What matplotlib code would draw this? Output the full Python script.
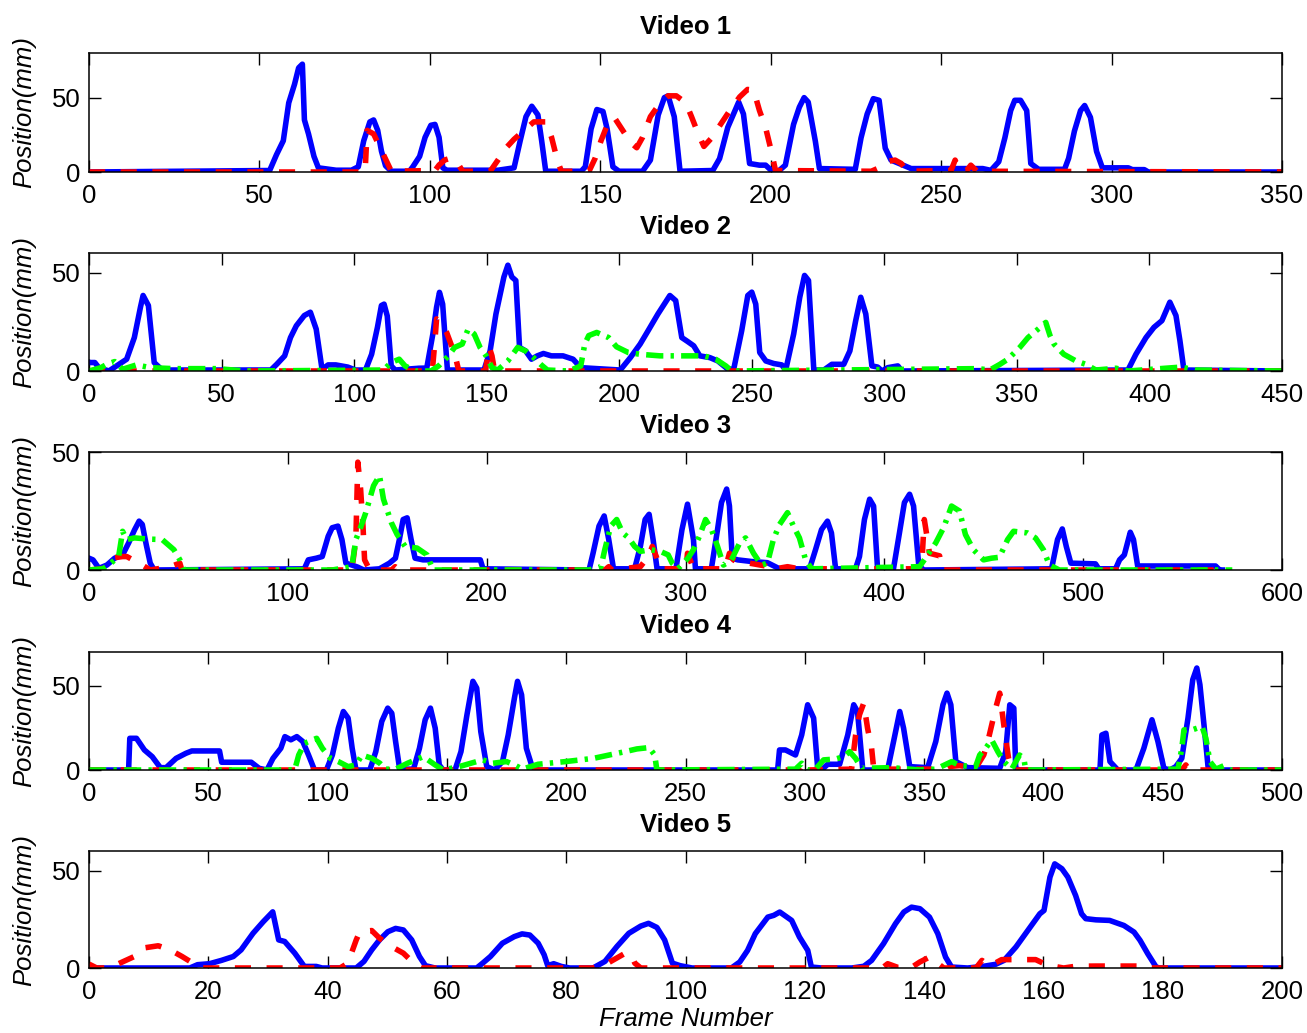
import numpy as np
import matplotlib
matplotlib.use("Agg")
import matplotlib.pyplot as plt

plt.rcParams['font.family'] = ['Liberation Sans', 'DejaVu Sans']

# (frame, position in mm), one list per curve
v1_blue = [(0, 0), (53, 1), (55, 11.6), (57, 21), (58.6, 46.5), (60.3, 59), (61.5, 70), (62.6, 72.5),
           (63.2, 35), (64.4, 25.6), (66, 10.5), (67.3, 2.8), (72.5, 1.2), (77, 1.2), (79, 3.5), (80.6, 21),
           (82.4, 33.7), (83.5, 35), (84.7, 28), (85.8, 14), (87, 4.2), (88.7, 0.5), (94, 0.5), (95, 3.5),
           (97, 10.5), (98.6, 23.3), (100.3, 31.4), (101.5, 32), (102.7, 23.3), (103.8, 2.8), (105, 1.2),
           (120, 1.2), (124.7, 2.8), (126.5, 21), (128.2, 37.2), (129.9, 44.2), (131.7, 38.4), (132.8, 21),
           (134, 0.5), (144.4, 0.5), (145.6, 3.5), (147.3, 29), (149, 42), (150.8, 40.7), (152, 29),
           (153.7, 3.5), (155.5, 0.5), (162.4, 0.5), (164.7, 8), (167, 38.4), (168.8, 50), (169.9, 51.2),
           (171.7, 37.2), (173.4, 0.5), (183, 1), (185, 9), (187.4, 30), (190.6, 47), (192, 39), (193.8, 5.7),
           (196.7, 4.6), (198.5, 4.6), (200.2, 1), (202, 0), (204.3, 4.6), (206.7, 32), (208.4, 43.6),
           (209.8, 50), (211, 47), (213.1, 20.6), (214.3, 2.3), (224.8, 1.8), (226.5, 23), (228.3, 39),
           (230.1, 49.3), (231.8, 48.2), (233.6, 16), (235.3, 8), (237.7, 5.7), (241.2, 2.3), (262.2, 2.3),
           (264.6, 1.1), (266.9, 6.9), (268.7, 23), (270.4, 41.3), (271.6, 48.2), (273.3, 48.2), (275.1, 41.3),
           (276.3, 5.7), (278.6, 1.8), (286.2, 1.8), (287.4, 9.2), (289.1, 27.5), (290.9, 41.3), (292.1, 44.7),
           (293.8, 36.7), (295.6, 13.8), (297.3, 2.8), (304.9, 2.8), (306.1, 1.6), (309.6, 1.6), (310.8, 0),
           (350, 0)]
v1_red = [(0, 0), (81, 0), (81.6, 28), (83.5, 25.6), (86.4, 11.6), (88.7, 0.5), (101.5, 1), (102.7, 4.7),
          (104.4, 8.1), (106.1, 9.3), (107.9, 7), (109.6, 0.5), (117.7, 0.5), (120, 8.1), (122.4, 16.3),
          (124.7, 22), (127.6, 27.9), (130.5, 33.7), (134, 33.7), (135.7, 23.3), (137.5, 7), (138.6, 0.5),
          (146.7, 0.5), (148.5, 9.3), (150.2, 20.9), (152.6, 34.9), (154.3, 36), (156.6, 27.9), (158.9, 19.8),
          (160.7, 16.3), (162.4, 23.3), (164.7, 37.2), (167.6, 46.5), (169.9, 51.2), (172.3, 51.2),
          (175.1, 46.5), (176.8, 37), (178.6, 26.4), (180.4, 17.2), (182.7, 23), (185, 31), (188, 41.3),
          (190.9, 50.5), (193.2, 55.5), (195, 55), (196.7, 41.3), (198.5, 29.8), (200.2, 13.8), (201.4, 1),
          (229.5, 0.5), (231.8, 2.8), (233.6, 6.9), (236.5, 8), (238.3, 5.7), (240, 0.5), (252.9, 1),
          (254.1, 8), (255.2, 1), (257.5, 1), (258.7, 4.6), (260.5, 0.5), (350, 0)]

v2_blue = [(0, 4.3), (2.2, 4.3), (3.7, 1.7), (7.5, 0), (10.4, 2.6), (14.2, 6), (17.1, 17), (19.4, 32.4),
           (20.4, 38.4), (22.4, 33.3), (24.6, 4.3), (27.6, 0.5), (68.6, 0.5), (70.8, 3.4), (73.8, 7.7), (76, 17),
           (78.2, 23), (81.2, 28.2), (83.5, 29.9), (85.7, 21.3), (87.9, 0.9), (90.2, 3.1), (93.1, 3.1),
           (97.6, 2), (100.6, 0.5), (104.3, 0.5), (106.6, 8.5), (108.8, 22.2), (110.3, 33.3), (111.3, 34),
           (112.5, 28), (114, 2.6), (115.5, 0.5), (124.4, 1.4), (127.4, 1.5), (129.7, 18.8), (131.1, 32.4),
           (132.2, 40), (133.4, 34), (135.2, 0.5), (149, 0.5), (151.3, 10.2), (153.5, 29), (156.5, 47.8),
           (158, 53.8), (159.5, 47.8), (161, 46), (162.4, 12), (164.7, 10.2), (166.9, 6), (169.1, 7.7),
           (171.4, 8.9), (174.4, 7.7), (178.8, 7.7), (182.6, 6), (185.5, 1.7), (200.4, 0.5), (204.2, 6.8),
           (207.9, 13.7), (210.9, 20.5), (214.6, 29), (219.1, 38.4), (221.3, 35.8), (223.6, 17), (225.8, 15),
           (228.1, 12.8), (230.4, 7.7), (234.2, 6.8), (237.2, 5.1), (241, 0.9), (243.2, 1), (246.2, 20.5),
           (248.5, 38.4), (250, 40.1), (251.5, 34), (253, 9.4), (255.3, 5.1), (258.3, 3.8), (261.3, 3.1),
           (262.8, 0.5), (265.8, 18.8), (268.1, 37.5), (269.9, 48.6), (271.4, 46), (273.4, 0.5), (277.2, 0.5),
           (280.2, 3.4), (284.7, 3.4), (287, 10.2), (289.2, 25.6), (291.1, 37.5), (293, 29), (295.3, 2.6),
           (297.5, 2), (299.1, 0), (301.3, 1.7), (305.1, 2.6), (306.6, 0), (391.9, 0.5), (394.9, 8.5),
           (398.7, 17), (401.7, 22.2), (404.7, 25.6), (407.7, 35), (410, 28.2), (411.5, 15.4), (413, 0.5),
           (450, 0)]
v2_red = [(0, 0), (129.5, 0), (130.4, 14), (131.1, 26.5), (133, 24), (134.9, 19.6), (137, 12), (138.6, 5),
          (139.5, 0), (149.5, 0), (151, 12), (152, 7.7), (153, 0), (450, 0)]
v2_green = [(0, 0), (4.5, 1.7), (6.7, 3.4), (9.7, 4.8), (12.7, 0.9), (17.9, 3.1), (23.1, 1.7), (32, 1.2),
            (48.4, 1.2), (58.9, 0), (111, 0.5), (114, 4.3), (117, 6), (119.2, 2.6), (123, 0), (129, 0),
            (131.9, 2.6), (135.6, 7.7), (137.9, 12), (140.8, 13.7), (143, 21.3), (145.3, 18.8), (147.5, 12),
            (149.8, 7.7), (152, 1.7), (154.2, 0.5), (158, 5.1), (161.7, 12), (164.7, 10.2), (167.7, 6.8),
            (170.6, 3.1), (172.9, 0.5), (181, 0), (185.5, 2.6), (187, 13.7), (188.5, 18), (191.5, 19.6),
            (196, 17), (199, 12.3), (203.4, 9.4), (207.9, 8.5), (215.4, 7.7), (231.9, 7.7), (236.4, 6),
            (240.2, 2.6), (242.5, 0), (335.3, 1.2), (339.8, 0.5), (343.6, 3.4), (346.6, 6), (351.1, 12),
            (354.2, 17), (358, 21.3), (360.9, 24.7), (362.5, 18), (364, 13.7), (367.7, 8.5), (372.3, 5.1),
            (376, 3.4), (379.8, 0.5), (387.4, 1.4), (392, 0), (412, 2), (417.2, 0.5), (450, 0)]

v3_blue = [(0, 5), (2, 4.3), (5, 0.7), (9, 2.1), (12.9, 5), (16.9, 6.4), (19.9, 11.4), (22.9, 17), (25.2, 20.7),
           (26.8, 19.3), (28.8, 10.7), (30.8, 2.9), (32.8, 0), (108.3, 0.5), (110.3, 4.3), (114.3, 5),
           (117.3, 5.7), (120.3, 14.3), (122.3, 17.9), (125.2, 18.6), (127.2, 12.9), (129.2, 2.9), (132.2, 2.1),
           (135.2, 1.2), (138.2, 0), (146.1, 0.5), (151.1, 2.9), (154.1, 5), (156.1, 12.9), (158, 21.4),
           (160, 22.1), (162, 12.9), (164, 5), (168, 4.3), (196.8, 4.3), (198.2, 0.5), (251.5, 0), (253.5, 7.1),
           (256.5, 18.6), (259.1, 22.9), (261.4, 12.9), (263.8, 0.5), (274.4, 0.5), (277.3, 10), (279.7, 21.4),
           (281.7, 23.6), (283.7, 12.9), (285.7, 0.5), (295.2, 0.5), (298.2, 17), (301, 27.9), (304, 12.9),
           (305, 0.5), (313, 0.5), (316.1, 17.1), (318.1, 28.6), (320.7, 34.3), (322.1, 27.1), (323.5, 5),
           (326.2, 4.3), (333.2, 3.6), (341.2, 3.1), (347.3, 0.5), (362.4, 0.5), (365.4, 8.6), (368.4, 17.1),
           (371.4, 20.7), (373.4, 15.7), (375.5, 0.5), (385.5, 0.5), (387.5, 5.7), (390, 21.4), (392.6, 30),
           (394.6, 27.1), (396.6, 0.5), (404.6, 0.5), (407.6, 15.7), (410.1, 28.6), (412.7, 32.1),
           (414.7, 27.1), (417.3, 2.1), (419.7, 0), (484.1, 0.5), (487.1, 12.9), (489.5, 17.4), (491.5, 10),
           (493.8, 2.9), (506.2, 2.6), (507.8, 0.5), (516.3, 0.5), (518.3, 4.3), (520.7, 6.4), (523.7, 16),
           (525.3, 12.9), (527.4, 1.7), (566.6, 1.7), (568.6, 0), (570, 0)]
v3_red = [(0, 0), (7, 0.5), (10.9, 5), (16.9, 5.7), (19, 5.7), (26.8, 2.1), (30.8, 0), (40.8, 1.4),
          (45.7, 2.9), (46.7, 0), (132.2, 0), (134.2, 12.9), (135.2, 45.7), (136.6, 34.3), (137.8, 18.6),
          (138.6, 4.3), (141.2, 0), (152.1, 0), (154, 1.4), (156, 0), (259.4, 0), (261.4, 1.4), (263, 0),
          (277.3, 1.4), (281.3, 5.7), (283.3, 10), (285.3, 5.7), (287.3, 0.5), (300.2, 0.5), (301, 7.1),
          (302, 5), (304, 0.5), (320, 0.5), (322.1, 7.1), (324.1, 4.3), (327.2, 2.9), (332.2, 2.9),
          (340.2, 1.7), (342, 0), (351.3, 1.4), (357.3, 0.5), (418.7, 0.5), (420.1, 21.4), (421.7, 12.9),
          (422.7, 7.1), (427.8, 6), (428.8, 0), (572, 0)]
v3_green = [(0, 0), (7, 0.5), (9.9, 2.1), (14.9, 5.7), (16.9, 16.4), (18.9, 12.9), (22.9, 13.6), (29.8, 13.1),
            (36.8, 12.9), (42.7, 8.6), (45.7, 4.3), (47.7, 0), (122.3, 0), (132.2, 1.4), (134.2, 12.9),
            (136.2, 17.1), (139.2, 24.3), (143.1, 35.7), (146.1, 40), (148.1, 30), (152.1, 20), (155, 15),
            (159, 10), (165, 9.3), (170, 6.4), (173, 0), (251.5, 0), (257.5, 1.4), (259.4, 8.6), (262.4, 18.6),
            (265.4, 21.4), (268.4, 15.7), (271.4, 13.6), (274.4, 10), (277.3, 7.9), (282.3, 8.6), (287.3, 7.9),
            (291.3, 6.4), (293.3, 2.9), (296.2, 0.5), (301.2, 5), (304, 8.6), (307, 14.3), (310.1, 21.4),
            (313.1, 17.1), (316.1, 10), (319.1, 2.1), (323.1, 4.3), (327.2, 11.4), (330.2, 13.6), (334.2, 7.1),
            (338.2, 2.1), (341.2, 2.9), (344.2, 12.9), (347.3, 19.3), (351.3, 24.3), (354.3, 18.6),
            (357.3, 13.6), (360.4, 4.3), (363.4, 0.5), (417.7, 1.4), (420.7, 5), (425.8, 11.4), (429.8, 17.9),
            (433.8, 27.1), (437.8, 25), (440.8, 15), (444.8, 8.6), (449.9, 4.3), (453.9, 5), (457.9, 5.4),
            (462, 12.9), (465, 16.4), (472, 15.7), (476, 13.6), (480, 8.6), (483, 2.1), (488, 0), (575, 0)]

v4_blue = [(0, 0), (16.6, 0), (17.1, 18.8), (19.9, 18.8), (23.2, 11.9), (26.5, 7.9), (29.9, 1.4), (32.3, 1.4),
           (36.5, 6.9), (40.6, 9.9), (43.1, 11.3), (54.7, 11.3), (55.6, 4.6), (68, 4.6), (71.3, 1), (74.6, 0),
           (77.1, 6.9), (80.4, 12.9), (82.1, 19.8), (84.6, 17.9), (87.1, 19.8), (89.6, 16.9), (92, 8.9),
           (94.5, 0), (99.5, 0), (102, 8.9), (104.5, 24.8), (106.6, 34.7), (108.6, 30.8), (110.3, 12.9),
           (111.9, 0), (117.7, 0), (120.2, 10.9), (122.7, 28.8), (125.2, 36.7), (126.9, 33.7), (128.5, 16.9),
           (130.2, 0.5), (136, 0.5), (138.5, 12.9), (140.9, 29.8), (143.1, 36.7), (145.1, 24.8), (146.8, 3),
           (148.4, 0), (153.4, 0), (155.9, 10.9), (158.4, 32.7), (160.9, 52.6), (162.5, 48.6), (164.2, 22.8),
           (166.7, 2), (170, 0), (173.3, 5), (175.7, 20.8), (178.3, 42.7), (179.6, 52.6), (181.3, 44.6),
           (183.3, 12.9), (185.7, 2), (188.2, 0), (288.6, 0), (289.4, 11.9), (291.9, 11.9), (296.1, 8.9),
           (298.7, 20.8), (301.2, 38.7), (303.7, 30.8), (305.4, 1), (307, 0), (309.6, 3.4), (314.6, 3.4),
           (318, 20.8), (320.5, 38.7), (322.1, 34.7), (324.3, 0), (334.7, 0), (337.2, 16.9), (339.8, 34.7),
           (341.4, 24.8), (344, 2), (351.5, 1.4), (354.9, 16.9), (357.9, 38.7), (359.6, 45.6), (361.2, 38.7),
           (363.3, 5), (368.3, 1.4), (381.7, 1), (384.2, 10.9), (385.9, 38.7), (387.6, 36.7), (388.4, 1),
           (390, 0), (423.7, 0), (424.5, 20.8), (426.2, 21.8), (427.9, 5), (431.2, 0), (438.8, 0), (442.1, 12.9),
           (445.5, 29.8), (448, 16.9), (450.5, 1), (453, 0), (455.5, 2), (458, 6.9), (460.6, 30.8),
           (462.6, 53.6), (464.3, 60.5), (465.6, 50.6), (467.3, 26.8), (469, 2), (471.5, 0), (500, 0)]
v4_red = [(0, 0), (297.8, 0), (299.5, 5), (301.2, 0), (319.6, 0.5), (321.3, 20.8), (322.9, 32.7), (324.7, 39.7),
          (326.3, 24.8), (328, 12.9), (328.9, 0.5), (358, 0.5), (359.9, 2), (364.9, 2.6), (371.6, 1), (375, 8.9),
          (376.7, 16.9), (380, 36.7), (381.7, 45.6), (383.4, 26.8), (384.2, 18.8), (385.4, 6.9), (386.7, 0),
          (458, 0), (459.7, 3), (461, 0), (500, 0)]
v4_green = [(0, 0), (86.2, 0), (87.9, 8.9), (90.4, 15.9), (95.4, 18.8), (97.8, 12.9), (101.2, 6.9), (104.5, 5),
            (108.6, 2), (111.9, 3), (114.4, 8.9), (118.6, 6.9), (121.9, 4), (124.4, 0.5), (128.5, 0.5),
            (133.5, 4), (136.8, 6), (140.1, 7.9), (145.1, 3), (148.4, 0), (155.1, 2), (160, 4), (165, 6),
            (169.2, 4), (175, 5), (178.3, 3), (181.6, 0.5), (188.2, 3.4), (199.8, 5), (211.4, 6.9),
            (224.7, 10.9), (229.6, 12.5), (234.7, 13.3), (237.1, 8.9), (238, 0), (296.1, 0.5), (298.7, 4),
            (301.2, 0), (304.5, 0.5), (307.9, 6), (312.9, 6.5), (316.3, 7.9), (318.8, 10.9), (321.3, 6.9),
            (323.8, 1), (336.4, 1.4), (348.2, 0), (354.9, 0.5), (361.6, 5), (364.9, 2.6), (371.6, 2),
            (373.3, 8.9), (375.8, 12.9), (378.3, 17.9), (380.9, 10.9), (383.4, 5), (386.7, 0.5), (390, 8.9),
            (391.8, 6.9), (392.6, 0), (456.4, 0.5), (458, 12.9), (458.9, 23.8), (462.3, 23.8), (466.5, 25.8),
            (468.1, 18.8), (469.8, 5), (472.3, 0.5), (475.7, 2.6), (478.2, 0), (500, 0)]

v5_blue = [(0, 0), (16.9, 0), (18.2, 1.7), (20.2, 2.2), (22.2, 3.9), (24.2, 5.9), (25.5, 9.3), (27.5, 17.8),
           (29.2, 23.7), (30.8, 28.8), (31.8, 14.4), (32.8, 13.6), (34.5, 7.6), (36.1, 0.8), (38.1, 0.8),
           (39.1, 0), (44.8, 0), (46.1, 3.4), (47.4, 9.3), (48.7, 14.4), (50.1, 18.6), (51.4, 20.3), (52.7, 19.5),
           (54.1, 14.4), (55.4, 5.9), (56.4, 1.2), (58, 0), (65, 0), (66, 2.5), (67.3, 5.9), (69.3, 12.7),
           (71.3, 16.1), (72.6, 17.5), (73.9, 16.9), (75.3, 12.7), (76.3, 6.8), (76.9, 1.2), (77.9, 2.2),
           (79.2, 0.8), (80.6, 0), (84.5, 0), (86.5, 3.4), (88.5, 11), (90.5, 17.8), (92.5, 21.5), (93.8, 22.9),
           (95.2, 20.8), (96.5, 14.4), (97.8, 2.5), (99.1, 1.2), (101.1, 0), (107.7, 0), (109.1, 3.1),
           (110.4, 9), (111.7, 17.6), (113.8, 26.1), (114.8, 27), (115.8, 28.7), (117.8, 24.4), (119.1, 15.9),
           (120.5, 9), (121.1, 0.5), (122.8, 0), (127.9, 0), (129.9, 0.9), (131.2, 3.9), (133.2, 12.5),
           (135.2, 22.7), (136.6, 28.7), (137.9, 31.2), (139.3, 30.4), (140.9, 26.1), (142.3, 17.6),
           (143.6, 5.6), (144.6, 0.5), (147.3, 0), (150, 0.9), (152, 1.9), (153.4, 3.9), (155.4, 10.8),
           (157.4, 19.3), (159.4, 27.8), (160.1, 29.5), (161.1, 46.6), (161.9, 53.4), (163.1, 50.9),
           (164.1, 46.6), (165.4, 37.2), (166.4, 27.8), (167.1, 25.3), (168.8, 24.7), (171.1, 24.4),
           (173.5, 21.8), (175.2, 18.4), (176.2, 14.2), (177.5, 7.3), (178.9, 0.5), (179.5, 0), (200, 0)]
v5_red = [(0, 2), (1.3, 0), (3, 0), (4.6, 1.7), (7.6, 5.9), (9, 10.2), (11.6, 11.4), (13.6, 9.3), (15.6, 5.9),
          (17.2, 2.9), (18.9, 0), (42.1, 0), (43.4, 2.5), (44.8, 14.4), (45.4, 18.6), (47.4, 19.2), (48.7, 15.3),
          (50.7, 11), (52.7, 7.6), (54.7, 1.7), (55.7, 0), (84.5, 0), (87.2, 2.9), (89.9, 7.6), (90.9, 6.8),
          (91.5, 2.5), (92.5, 0), (133, 0), (133.9, 2.2), (135.6, 0.3), (137.9, 0.3), (139.3, 3.1),
          (140.9, 5.6), (143.3, 0), (148.7, 0), (149.7, 3.9), (151, 1), (153, 4.3), (158.7, 4.3), (160.7, 1.4),
          (163.4, 0), (165.4, 0.9), (168.8, 1), (176.2, 1), (177.2, 0), (200, 0)]

titles = ["Video 1", "Video 2", "Video 3", "Video 4", "Video 5"]
curves = [
    [v1_blue, v1_red, None],
    [v2_blue, v2_red, v2_green],
    [v3_blue, v3_red, v3_green],
    [v4_blue, v4_red, v4_green],
    [v5_blue, v5_red, None],
]
xmax = [350, 450, 600, 500, 200]
xstep = [50, 50, 100, 50, 20]
ymax = [80, 60, 50, 70, 60]

# panel frames in pixels (top, bottom) on a 1307x1033 canvas
W, H = 1307, 1033
left_px, right_px = 89, 1282
frames = [(53, 172), (253, 371), (452, 570), (652, 770), (851, 968)]

styles = [
    dict(color='#0000ff', lw=4.0, ls='-'),
    dict(color='#ff0000', lw=4.0, ls=(0, (2.9, 2.8))),
    dict(color='#00ff00', lw=4.0, ls=(0, (3.1, 1.3, 0.6, 1.3))),
]

fs = 18.5
fig = plt.figure(figsize=(W / 100, H / 100), dpi=100)

for i in range(5):
    top, bot = frames[i]
    ax = fig.add_axes([left_px / W, 1 - bot / H, (right_px - left_px) / W, (bot - top) / H])
    for data, st in zip(curves[i], styles):
        if data is None:
            continue
        x, y = zip(*data)
        ax.plot(x, y, color=st['color'], lw=st['lw'], linestyle=st['ls'],
                solid_joinstyle='round', dash_capstyle='butt')
    ax.set_xlim(0, xmax[i])
    ax.set_ylim(0, ymax[i])
    ax.set_xticks(np.arange(0, xmax[i] + 1, xstep[i]))
    ax.set_yticks([0, 50])
    ax.tick_params(direction='in', length=8.5, width=1, top=True, right=True,
                   labelsize=fs, pad=6)
    ax.tick_params(axis='x', pad=8.5)
    for sp in ax.spines.values():
        sp.set_linewidth(1.1)
        sp.set_zorder(3)
    ax.set_title(titles[i], fontsize=fs, fontweight='bold', pad=14)
    ax.set_ylabel('Position(mm)', fontsize=fs, style='italic')
    ax.yaxis.set_label_coords(-0.044, 0.5)
    if i == 4:
        ax.set_xlabel('Frame Number', fontsize=fs, style='italic', labelpad=2)

fig.savefig('out.png', dpi=100)
